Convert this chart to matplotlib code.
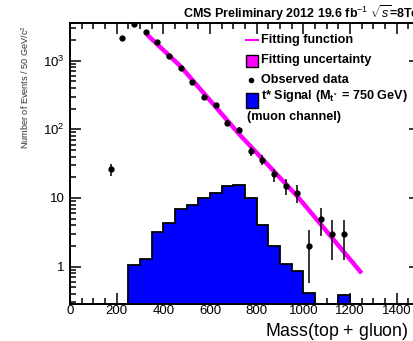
import numpy as np
import matplotlib
matplotlib.use("Agg")
import matplotlib.pyplot as plt
from matplotlib.ticker import FixedLocator, MultipleLocator, LogLocator, NullFormatter
from matplotlib.lines import Line2D

plt.rcParams['font.family'] = ['Liberation Sans', 'DejaVu Sans']
plt.rcParams['mathtext.fontset'] = 'custom'
plt.rcParams['mathtext.rm'] = 'Liberation Sans'
plt.rcParams['mathtext.it'] = 'Liberation Sans:italic'
plt.rcParams['mathtext.bf'] = 'Liberation Sans:bold'

# Observed data (bin centres, GeV) and counts
data_mass = [175, 225, 275, 325, 375, 425, 475, 525, 575, 625, 675, 725,
             775, 825, 875, 925, 975, 1025, 1075, 1125, 1175]
data_counts = [26, 2140, 3400, 2640, 1845, 1175, 770, 490, 296, 223, 124, 97,
               48, 36, 22, 15, 12, 2, 5, 3, 3]

# Signal histogram (50 GeV bins)
sig_edges = [250, 300, 350, 400, 450, 500, 550, 600, 650, 700, 750, 800, 850,
             900, 950, 1000, 1050, 1100, 1150, 1200]
sig_values = [1.06, 1.3, 3.2, 4.3, 6.9, 7.8, 10.0, 11.9, 14.9, 15.6, 10.0,
              4.1, 2.0, 1.1, 0.85, 0.41, 0, 0, 0.39]

# Fit function
fit_mass = [330, 475, 725, 975, 1250]
fit_vals = [2400, 820, 85, 10.5, 0.8]

W, H = 414, 341
fig = plt.figure(figsize=(W / 100, H / 100), dpi=100)
ax = fig.add_axes([70 / W, 1 - 304 / H, 350 / W, (304 - 22.5) / H])
ax.set_yscale('log')
ax.set_xlim(0, 1500)
ax.set_ylim(0.285, 3600)

# signal
ax.stairs(sig_values, sig_edges, fill=True, color='#0000ff', baseline=0, zorder=2)
ax.stairs(sig_values, sig_edges, fill=False, color='black', lw=1.3, baseline=0, zorder=3)

# fit
ax.plot(fit_mass, fit_vals, color='#ff00ff', lw=3.2, solid_capstyle='butt', zorder=4)

# data
dc = np.array(data_counts, dtype=float)
err = np.sqrt(dc)
lo = np.minimum(err, dc - 1e-3)
ax.errorbar(data_mass, dc, yerr=[lo, err], fmt='o', color='black', ms=3.5,
            elinewidth=1.1, capsize=0, zorder=5)

# ticks
ax.xaxis.set_major_locator(MultipleLocator(200))
ax.xaxis.set_minor_locator(MultipleLocator(50))
ax.yaxis.set_major_locator(FixedLocator([1, 10, 100, 1000]))
ax.set_yticklabels(['1', '10', '$10^{2}$', '$10^{3}$'])
ax.yaxis.set_minor_locator(LogLocator(base=10, subs=np.arange(2, 10)))
ax.yaxis.set_minor_formatter(NullFormatter())
ax.tick_params(which='both', direction='in', top=True, right=True, labelsize=9.5,
               width=1.1, color='black')
ax.tick_params(which='major', length=8)
ax.tick_params(which='minor', length=4)
ax.tick_params(axis='x', pad=1)
ax.tick_params(axis='y', pad=4)
for s in ax.spines.values():
    s.set_linewidth(1.4)

# texts
fig.text(183 / W, 1 - 13 / H, r'CMS Preliminary 2012 19.6 fb$^{-1}$ $\sqrt{s}$=8TeV',
         fontsize=9.0, fontweight='bold', ha='left', va='center')
fig.text(265 / W, 1 - 337 / H, 'Mass(top + gluon) [GeV/c$^{2}$]', fontsize=12.8,
         ha='left', va='baseline')
fig.text(25 / W, 1 - 25 / H, 'Number of Events / 50 GeV/c$^{2}$', fontsize=6.6,
         rotation=90, ha='center', va='top', color='#333333')

# legend (manual)
def px(x, y):
    return x / W, 1 - y / H

lx0, lx1, tx = 246, 258, 261
lfs = 9.1
fig.add_artist(Line2D([lx0 / W, lx1 / W], [1 - 40 / H] * 2, color='#ff00ff', lw=1.5))
fig.text(*px(tx, 40), 'Fitting function', fontsize=lfs, fontweight='bold', va='center')
fig.add_artist(plt.Rectangle(px(lx0, 67), 12 / W, 12 / H, facecolor='#ff00ff',
                             edgecolor='black', lw=1.0))
fig.text(*px(tx, 60), 'Fitting uncertainty', fontsize=lfs, fontweight='bold', va='center')
fig.add_artist(Line2D([251 / W], [1 - 80 / H], marker='o', color='black', ms=3))
fig.text(*px(tx, 80), 'Observed data', fontsize=lfs, fontweight='bold', va='center')
fig.add_artist(plt.Rectangle(px(lx0, 108), 12 / W, 15 / H, facecolor='#0000ff',
                             edgecolor='black', lw=1.0))
fig.text(*px(tx, 96), 't* Signal (M$_{\\mathregular{t^*}}$ = 750 GeV)', fontsize=lfs,
         fontweight='bold', va='center')
fig.text(*px(247, 117), '(muon channel)', fontsize=lfs, fontweight='bold', va='center')

fig.savefig('out.png', dpi=100)
